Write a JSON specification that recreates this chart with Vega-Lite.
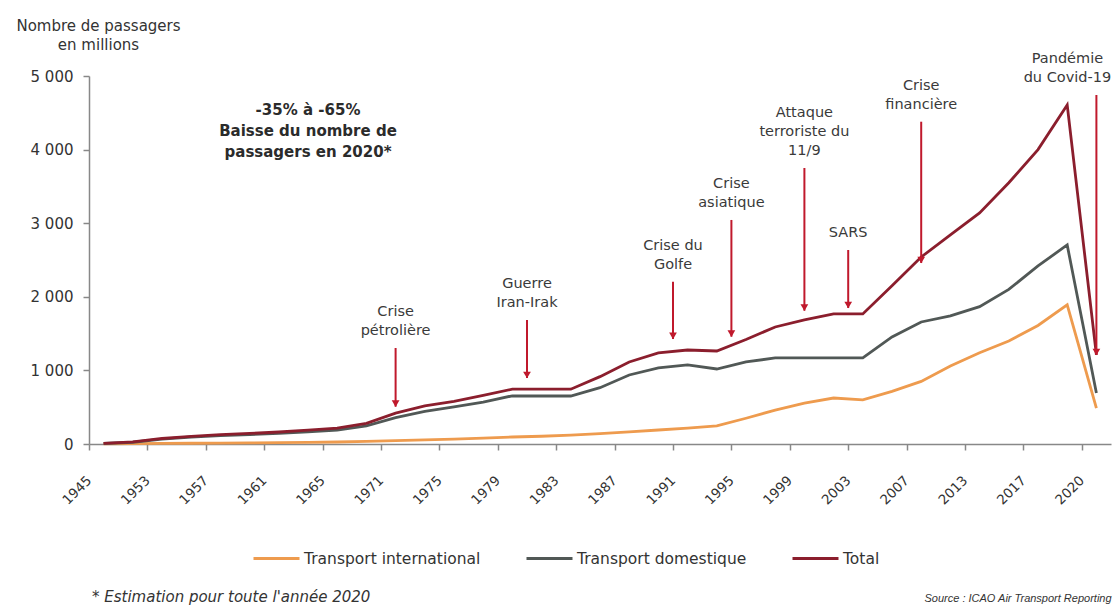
{
  "$schema": "https://vega.github.io/schema/vega-lite/v6.json",
  "width": 1022,
  "height": 368,
  "autosize": {"type": "none"},
  "padding": {"left": 89, "top": 76, "right": 3, "bottom": 161},
  "background": "#ffffff",
  "title": {
    "text": "* Estimation pour toute l'année 2020",
    "orient": "bottom",
    "anchor": "start",
    "frame": "group",
    "font": "DejaVu Sans",
    "fontSize": 15,
    "fontStyle": "italic",
    "fontWeight": "normal",
    "color": "#333333",
    "offset": 10,
    "dy": -23,
    "dx": 3
  },
  "datasets": {
    "traffic": [
      {"year": "1945", "Transport international": 2, "Transport domestique": 7, "Total": 9},
      {"year": "1949", "Transport international": 5, "Transport domestique": 24, "Total": 30},
      {"year": "1953", "Transport international": 8, "Transport domestique": 66, "Total": 75},
      {"year": "1955", "Transport international": 10, "Transport domestique": 95, "Total": 105},
      {"year": "1957", "Transport international": 12, "Transport domestique": 113, "Total": 127},
      {"year": "1959", "Transport international": 15, "Transport domestique": 127, "Total": 143},
      {"year": "1961", "Transport international": 18, "Transport domestique": 144, "Total": 163},
      {"year": "1963", "Transport international": 22, "Transport domestique": 165, "Total": 188},
      {"year": "1965", "Transport international": 27, "Transport domestique": 188, "Total": 215},
      {"year": "1968", "Transport international": 35, "Transport domestique": 246, "Total": 281},
      {"year": "1971", "Transport international": 45, "Transport domestique": 357, "Total": 420},
      {"year": "1973", "Transport international": 55, "Transport domestique": 442, "Total": 518},
      {"year": "1975", "Transport international": 65, "Transport domestique": 505, "Total": 580},
      {"year": "1977", "Transport international": 80, "Transport domestique": 570, "Total": 660},
      {"year": "1979", "Transport international": 95, "Transport domestique": 655, "Total": 745},
      {"year": "1981", "Transport international": 105, "Transport domestique": 652, "Total": 745},
      {"year": "1983", "Transport international": 120, "Transport domestique": 652, "Total": 745},
      {"year": "1985", "Transport international": 140, "Transport domestique": 765, "Total": 915},
      {"year": "1987", "Transport international": 165, "Transport domestique": 938, "Total": 1115},
      {"year": "1989", "Transport international": 190, "Transport domestique": 1033, "Total": 1237},
      {"year": "1991", "Transport international": 215, "Transport domestique": 1074, "Total": 1277},
      {"year": "1993", "Transport international": 245, "Transport domestique": 1019, "Total": 1264},
      {"year": "1995", "Transport international": 350, "Transport domestique": 1115, "Total": 1420},
      {"year": "1997", "Transport international": 460, "Transport domestique": 1169, "Total": 1590},
      {"year": "1999", "Transport international": 555, "Transport domestique": 1169, "Total": 1685},
      {"year": "2001", "Transport international": 625, "Transport domestique": 1169, "Total": 1767},
      {"year": "2003", "Transport international": 600, "Transport domestique": 1169, "Total": 1767},
      {"year": "2005", "Transport international": 715, "Transport domestique": 1454, "Total": 2150},
      {"year": "2007", "Transport international": 850, "Transport domestique": 1658, "Total": 2541},
      {"year": "2010", "Transport international": 1060, "Transport domestique": 1740, "Total": 2840},
      {"year": "2013", "Transport international": 1240, "Transport domestique": 1866, "Total": 3139},
      {"year": "2015", "Transport international": 1400, "Transport domestique": 2100, "Total": 3550},
      {"year": "2017", "Transport international": 1610, "Transport domestique": 2420, "Total": 4000},
      {"year": "2019", "Transport international": 1890, "Transport domestique": 2704, "Total": 4607},
      {"year": "2020", "Transport international": 489, "Transport domestique": 693, "Total": 1210}
    ],
    "events": [
      {"label": "Crise\npétrolière", "year": "1971", "top": 1304, "bottom": 507},
      {"label": "Guerre\nIran-Irak", "year": "1981", "top": 1685, "bottom": 897},
      {"label": "Crise du\nGolfe", "year": "1991", "top": 2205, "bottom": 1427},
      {"label": "Crise\nasiatique", "year": "1995", "top": 3044, "bottom": 1458},
      {"label": "Attaque\nterroriste du\n11/9", "year": "1999", "top": 3750, "bottom": 1811},
      {"label": "SARS", "year": "2003", "top": 2636, "bottom": 1848},
      {"label": "Crise\nfinancière", "year": "2007", "top": 4379, "bottom": 2459},
      {"label": "Pandémie\ndu Covid-19", "year": "2020", "top": 4742, "bottom": 1209}
    ],
    "note": [
      {"text": "-35% à -65%\nBaisse du nombre de\npassagers en 2020*", "year": "1963", "value": 4538}
    ]
  },
  "layer": [
    {
      "data": {"name": "traffic"},
      "transform": [
        {"fold": ["Transport international", "Transport domestique", "Total"], "as": ["series", "value"]}
      ],
      "mark": {"type": "line", "strokeWidth": 2.8, "interpolate": "linear"},
      "encoding": {
        "x": {
          "field": "year", "type": "ordinal", "bandPosition": 0.5,
          "scale": {"type": "band", "paddingInner": 0, "paddingOuter": 0,
            "domain": ["1945","1949","1953","1955","1957","1959","1961","1963","1965","1968","1971","1973","1975","1977","1979","1981","1983","1985","1987","1989","1991","1993","1995","1997","1999","2001","2003","2005","2007","2010","2013","2015","2017","2019","2020"]},
          "axis": {
            "values": ["1945","1953","1957","1961","1965","1971","1975","1979","1983","1987","1991","1995","1999","2003","2007","2013","2017","2020"],
            "bandPosition": 0.5,
            "tickOffset": -14.6,
            "labelAngle": -45, "labelAlign": "right", "labelBaseline": "middle",
            "labelPadding": 28, "labelFontSize": 13.5, "labelColor": "#333333", "labelFont": "DejaVu Sans",
            "labelOverlap": false, "labelBound": false, "labelFlush": false,
            "tickSize": 6, "tickColor": "#888888", "tickWidth": 1.5,
            "domainColor": "#888888", "domainWidth": 1.5, "grid": false,
            "title": "Source : ICAO Air Transport Reporting",
            "titleX": 835, "titleY": 154, "titleAlign": "left", "titleBaseline": "middle", "titleAngle": 0,
            "titleFont": "Liberation Sans",
            "titleFontSize": 11, "titleFontStyle": "italic", "titleFontWeight": "normal", "titleColor": "#333333"
          }
        },
        "y": {
          "field": "value", "type": "quantitative",
          "scale": {"domain": [0, 5000], "nice": false},
          "axis": {
            "values": [0, 500, 1000, 1500, 2000, 2500, 3000, 3500, 4000, 4500, 5000],
            "labelExpr": "replace(format(datum.value, ','), ',', ' ')",
            "labelFont": "DejaVu Sans", "labelFontSize": 15, "labelColor": "#333333", "labelPadding": 10,
            "tickSize": 6, "tickColor": "#888888", "tickWidth": 1.5,
            "domainColor": "#888888", "domainWidth": 1.5, "grid": false,
            "title": ["Nombre de passagers", "en millions"],
            "titleAngle": 0, "titleAlign": "center", "titleBaseline": "middle",
            "titleX": 9, "titleY": -51, "titleLineHeight": 19,
            "titleFont": "DejaVu Sans", "titleFontSize": 15, "titleFontWeight": "normal", "titleColor": "#333333"
          }
        },
        "color": {
          "field": "series", "type": "nominal",
          "scale": {"domain": ["Transport international", "Transport domestique", "Total"], "range": ["#ee9b4e", "#515856", "#8b1e2d"]},
          "legend": {
            "orient": "none", "legendX": 163, "legendY": 458, "direction": "horizontal",
            "title": null, "symbolType": "stroke", "symbolSize": 2116, "symbolStrokeWidth": 3,
            "labelFont": "DejaVu Sans", "labelFontSize": 15.5, "labelColor": "#333333", "labelOffset": 3,
            "labelLimit": 400, "columnPadding": 39, "padding": 0
          }
        }
      }
    },
    {
      "data": {"name": "events"},
      "transform": [{"filter": {"field": "year", "oneOf": ["1981", "1991", "1995", "2003"]}}],
      "encoding": {
        "x": {
          "field": "year", "type": "ordinal", "bandPosition": 0,
          "scale": {"type": "band", "paddingInner": 0, "paddingOuter": 0,
            "domain": ["1945","1949","1953","1955","1957","1959","1961","1963","1965","1968","1971","1973","1975","1977","1979","1981","1983","1985","1987","1989","1991","1993","1995","1997","1999","2001","2003","2005","2007","2010","2013","2015","2017","2019","2020"]}
        }
      },
      "layer": [
        {"mark": {"type": "rule", "color": "#c0192c", "strokeWidth": 2},
         "encoding": {"y": {"field": "top", "type": "quantitative", "scale": {"domain": [0, 5000], "nice": false}}, "y2": {"field": "bottom"}}},
        {"mark": {"type": "point", "shape": "triangle-down", "filled": true, "color": "#c0192c", "size": 60, "opacity": 1, "yOffset": -3},
         "encoding": {"y": {"field": "bottom", "type": "quantitative", "scale": {"domain": [0, 5000], "nice": false}}}},
        {"transform": [{"filter": "datum.year != '2003'"}],
         "mark": {"type": "text", "lineBreak": "\n", "baseline": "bottom", "align": "center", "dy": -29, "font": "DejaVu Sans", "fontSize": 14.5, "lineHeight": 19, "color": "#3a3a3a"},
         "encoding": {"y": {"field": "top", "type": "quantitative", "scale": {"domain": [0, 5000], "nice": false}}, "text": {"field": "label"}}},
        {"transform": [{"filter": "datum.year == '2003'"}],
         "mark": {"type": "text", "lineBreak": "\n", "baseline": "bottom", "align": "center", "dy": -10, "font": "DejaVu Sans", "fontSize": 14.5, "lineHeight": 19, "color": "#3a3a3a"},
         "encoding": {"y": {"field": "top", "type": "quantitative", "scale": {"domain": [0, 5000], "nice": false}}, "text": {"field": "label"}}}
      ]
    },
    {
      "data": {"name": "events"},
      "transform": [{"filter": {"field": "year", "oneOf": ["1971", "1999", "2007", "2020"]}}],
      "encoding": {
        "x": {
          "field": "year", "type": "ordinal", "bandPosition": 0.5,
          "scale": {"type": "band", "paddingInner": 0, "paddingOuter": 0,
            "domain": ["1945","1949","1953","1955","1957","1959","1961","1963","1965","1968","1971","1973","1975","1977","1979","1981","1983","1985","1987","1989","1991","1993","1995","1997","1999","2001","2003","2005","2007","2010","2013","2015","2017","2019","2020"]}
        }
      },
      "layer": [
        {"mark": {"type": "rule", "color": "#c0192c", "strokeWidth": 2},
         "encoding": {"y": {"field": "top", "type": "quantitative", "scale": {"domain": [0, 5000], "nice": false}}, "y2": {"field": "bottom"}}},
        {"mark": {"type": "point", "shape": "triangle-down", "filled": true, "color": "#c0192c", "size": 60, "opacity": 1, "yOffset": -3},
         "encoding": {"y": {"field": "bottom", "type": "quantitative", "scale": {"domain": [0, 5000], "nice": false}}}},
        {"transform": [{"filter": {"field": "year", "oneOf": ["1971", "2007"]}}],
         "mark": {"type": "text", "lineBreak": "\n", "baseline": "bottom", "align": "center", "dy": -29, "font": "DejaVu Sans", "fontSize": 14.5, "lineHeight": 19, "color": "#3a3a3a"},
         "encoding": {"y": {"field": "top", "type": "quantitative", "scale": {"domain": [0, 5000], "nice": false}}, "text": {"field": "label"}}},
        {"transform": [{"filter": "datum.year == '1999'"}],
         "mark": {"type": "text", "lineBreak": "\n", "baseline": "bottom", "align": "center", "dy": -48, "font": "DejaVu Sans", "fontSize": 14.5, "lineHeight": 19, "color": "#3a3a3a"},
         "encoding": {"y": {"field": "top", "type": "quantitative", "scale": {"domain": [0, 5000], "nice": false}}, "text": {"field": "label"}}},
        {"transform": [{"filter": "datum.year == '2020'"}],
         "mark": {"type": "text", "lineBreak": "\n", "baseline": "bottom", "align": "center", "dy": -29, "dx": -29, "font": "DejaVu Sans", "fontSize": 14.5, "lineHeight": 19, "color": "#3a3a3a"},
         "encoding": {"y": {"field": "top", "type": "quantitative", "scale": {"domain": [0, 5000], "nice": false}}, "text": {"field": "label"}}}
      ]
    },
    {
      "data": {"name": "note"},
      "mark": {"type": "text", "lineBreak": "\n", "baseline": "middle", "align": "center", "font": "DejaVu Sans", "fontSize": 15, "fontWeight": "bold", "lineHeight": 21, "color": "#2b2b2b"},
      "encoding": {
        "x": {
          "field": "year", "type": "ordinal", "bandPosition": 0.5,
          "scale": {"type": "band", "paddingInner": 0, "paddingOuter": 0,
            "domain": ["1945","1949","1953","1955","1957","1959","1961","1963","1965","1968","1971","1973","1975","1977","1979","1981","1983","1985","1987","1989","1991","1993","1995","1997","1999","2001","2003","2005","2007","2010","2013","2015","2017","2019","2020"]}
        },
        "y": {"field": "value", "type": "quantitative", "scale": {"domain": [0, 5000], "nice": false}},
        "text": {"field": "text"}
      }
    }
  ],
  "config": {
    "view": {"stroke": null},
    "font": "DejaVu Sans"
  }
}
